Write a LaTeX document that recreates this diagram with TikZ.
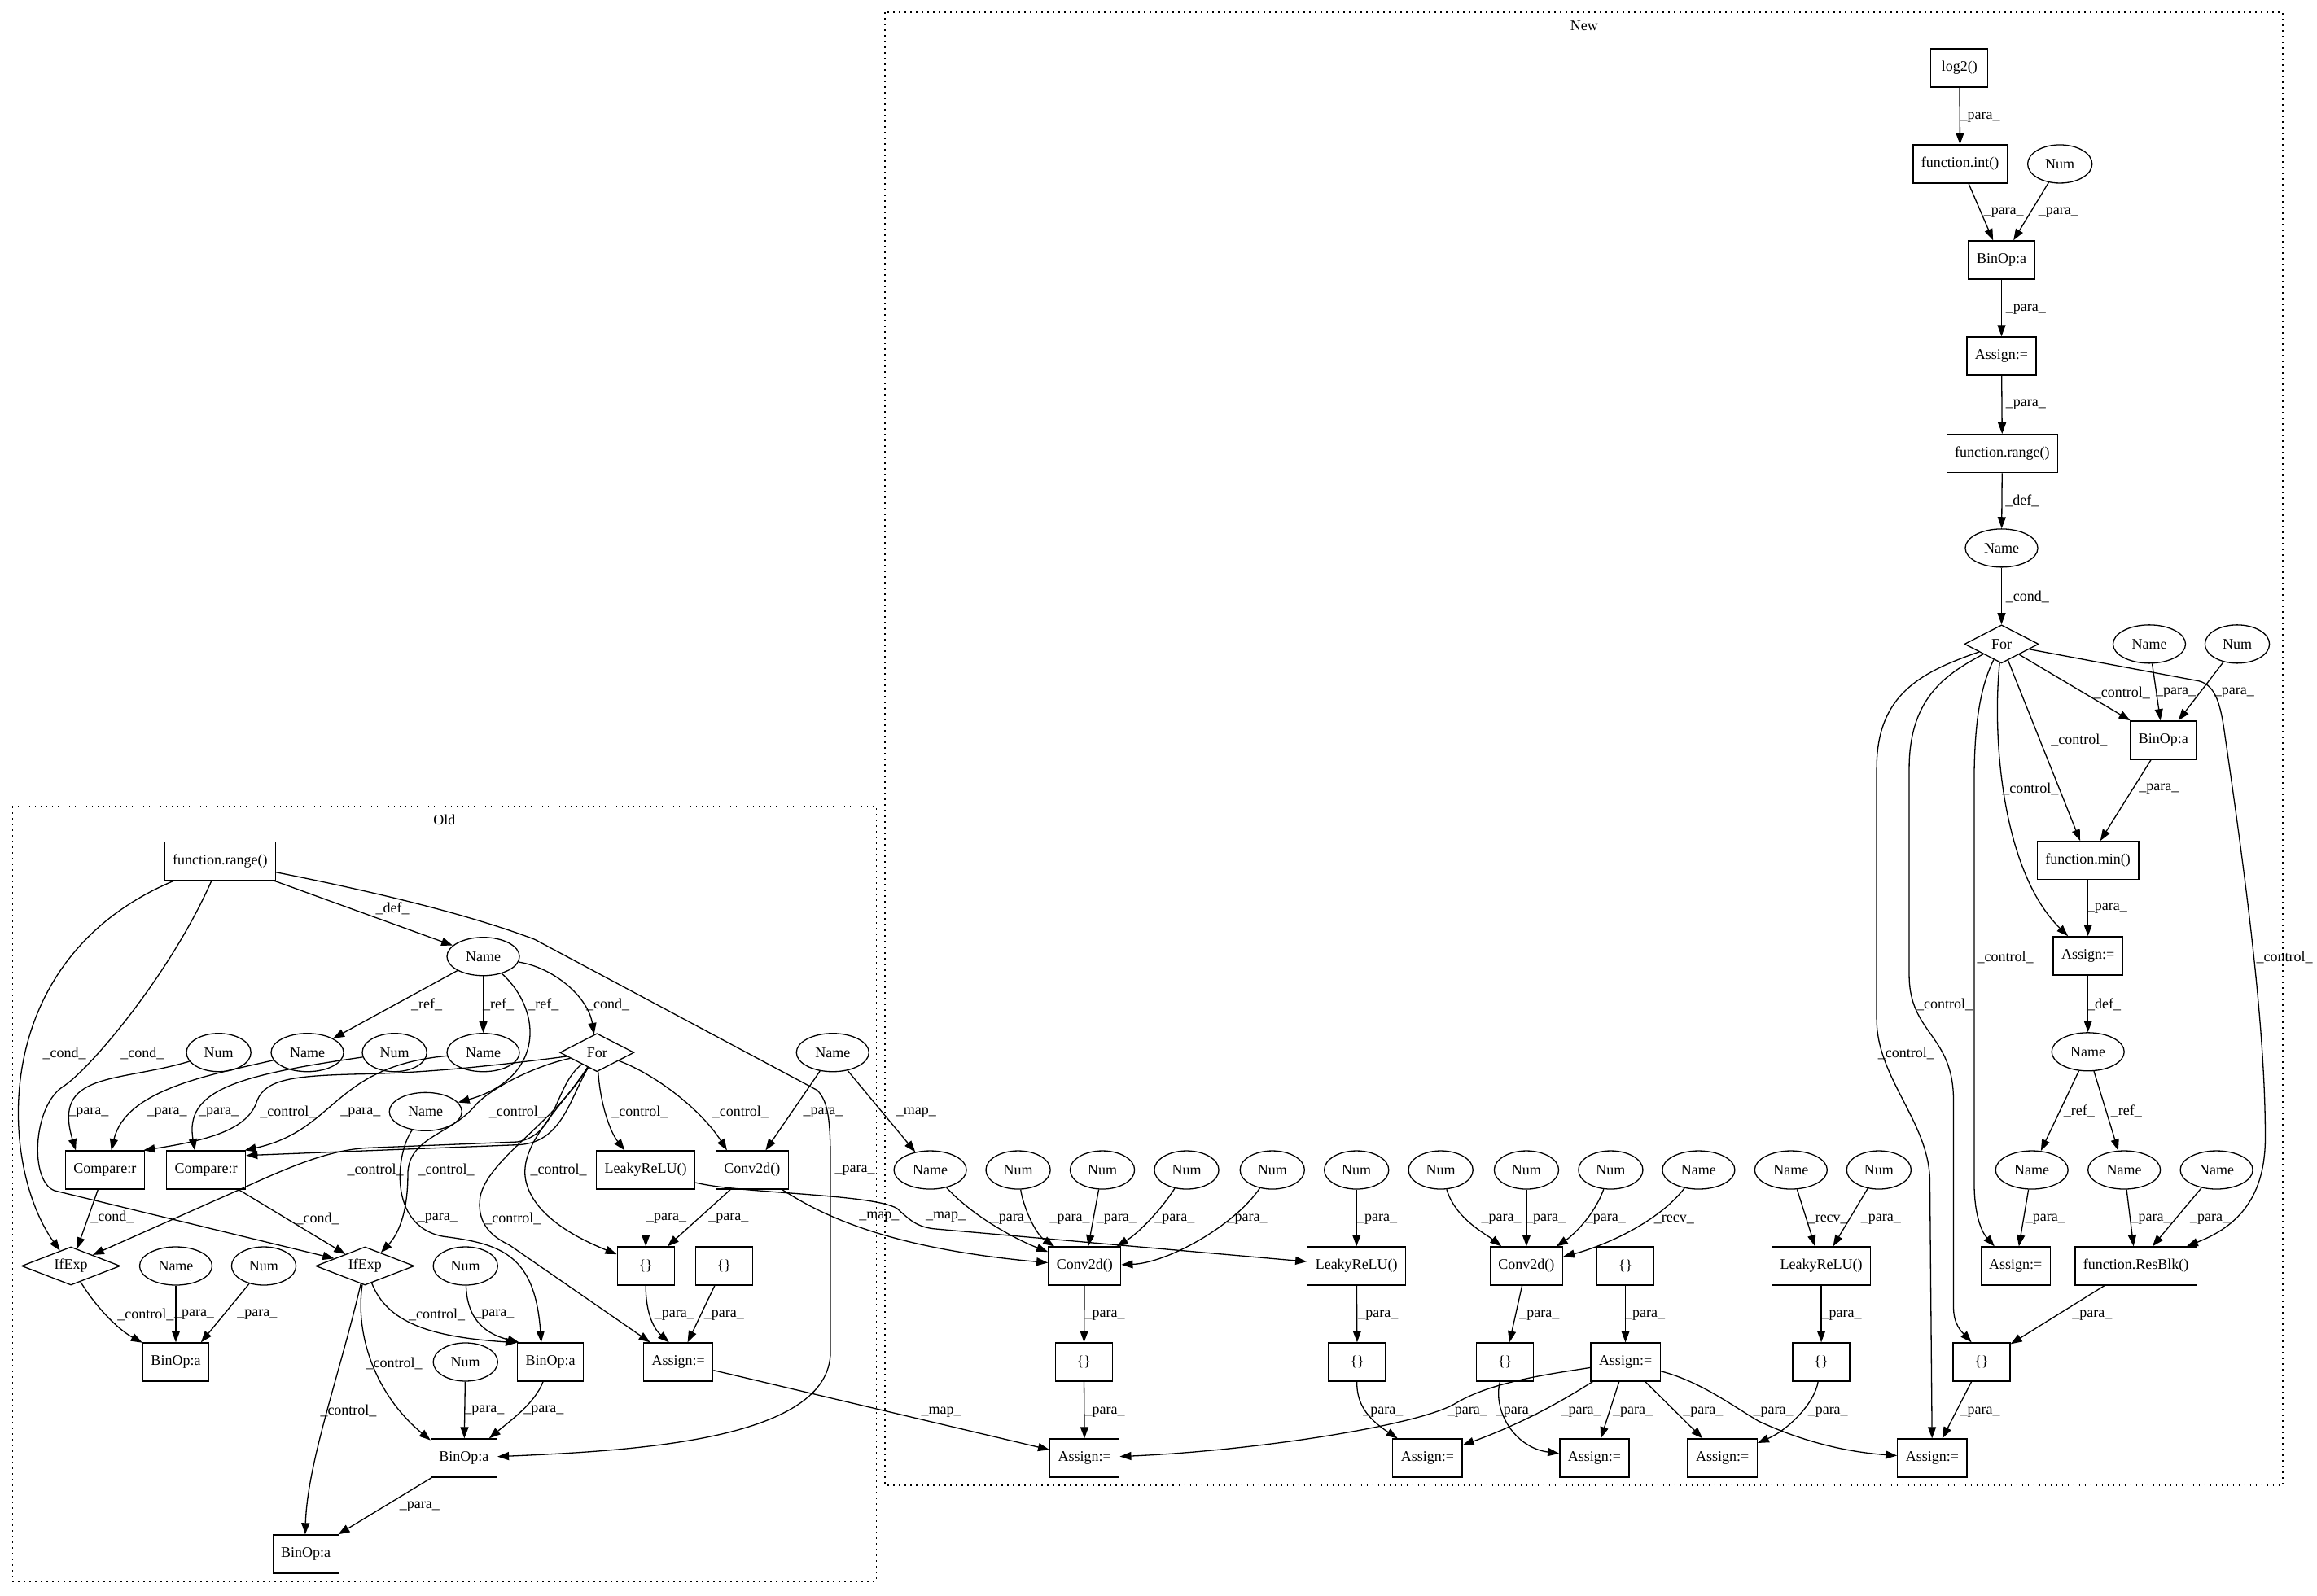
\documentclass[tikz,border=0pt]{standalone}
\usepackage{fontspec}
\setmainfont{Liberation Serif}
\usetikzlibrary{shapes.geometric,arrows.meta}
\tikzset{
  base/.style={font=\fontsize{18}{21}\selectfont},
  box/.style={base, draw, rectangle, line width=1.3pt, minimum height=47pt, minimum width=70pt, inner xsep=10pt, inner ysep=0pt},
  ell/.style={base, draw, ellipse, line width=1.3pt, minimum height=47pt, inner xsep=10pt, inner ysep=0pt},
  dia/.style={base, draw, diamond, line width=1.3pt, minimum height=47pt, inner sep=0pt, aspect=2},
  e/.style={line width=1.3pt, -{Triangle[length=14pt,width=10pt]}},
  lab/.style={base, inner sep=0pt},
  clus/.style={line width=1.6pt, dash pattern=on 1.6pt off 5.4pt},
}
\begin{document}
\begin{tikzpicture}[x=1.815pt,y=-1.815pt]
\useasboundingbox (0,0) rectangle (1568,1080);
% clusters
\draw[clus] (8.5,546) rectangle (593,1070.5);
\node[base] (oldlab) at (300.7,555) {Old};
\draw[clus] (599,8.4) rectangle (1545,1005.5);
\node[base] (newlab) at (1072,17.5) {New};

% ---------- Old nodes
\node[box] (oRange) at (149,583) {function.range()};
\node[ell] (oName) at (327,647.5) {Name};
\node[ell] (oNum1) at (148,712.5) {Num};
\node[ell] (oName1) at (208,712.5) {Name};
\node[ell] (oNum2) at (267,712.5) {Num};
\node[ell] (oName2) at (327,712.5) {Name};
\node[dia, minimum width=91pt] (oFor) at (404,712.5) {For};
\node[ell] (oNameR) at (563.5,712.5) {Name};
\node[ell] (oName3) at (288,752.5) {Name};
\node[box] (oCmpL) at (71,792) {Compare:r};
\node[box] (oCmpR) at (139.5,792) {Compare:r};
\node[box] (oLeaky) at (437,792) {LeakyReLU()};
\node[box] (oConv) at (509,792) {Conv2d()};
\node[dia, minimum width=121pt] (oIfL) at (48,857) {IfExp};
\node[ell] (oNameB) at (119,857) {Name};
\node[ell] (oNumB) at (178.5,857) {Num};
\node[dia, minimum width=121pt] (oIfR) at (247,857) {IfExp};
\node[ell] (oNumC) at (315,857) {Num};
\node[box] (oBr1) at (437,857) {\{\}};
\node[box] (oBr2) at (490,857) {\{\}};
\node[box] (oBinL) at (119,922) {BinOp:a};
\node[ell] (oNumD) at (315,922) {Num};
\node[box] (oBinM) at (372.5,922) {BinOp:a};
\node[box] (oAs) at (459,922) {Assign:=};
\node[box] (oBinB) at (314,987) {BinOp:a};
\node[box] (oBinZ) at (207,1052) {BinOp:a};

% ---------- New nodes
\node[box] (nLog) at (1326,46) {log2()};
\node[box] (nInt) at (1326.5,111) {function.int()};
\node[ell] (nNum0) at (1394,111) {Num};
\node[box] (nBin0) at (1354.5,176) {BinOp:a};
\node[box] (nAs0) at (1354.5,241) {Assign:=};
\node[box] (nRange) at (1355,307) {function.range()};
\node[ell] (nName0) at (1354.5,371) {Name};
\node[dia, minimum width=91pt] (nFor) at (1354.5,436) {For};
\node[ell] (nNameA) at (1454.5,436) {Name};
\node[ell] (nNumA) at (1514,436) {Num};
\node[box] (nBin1) at (1464,501) {BinOp:a};
\node[box] (nMin) at (1413,582.5) {function.min()};
\node[box] (nAs1) at (1413,647) {Assign:=};
\node[ell] (nName1) at (1413,712) {Name};

\node[ell] (nName2) at (629.5,792) {Name};
\node[ell] (nNum1) at (689,792) {Num};
\node[ell] (nNum2) at (746,792) {Num};
\node[ell] (nNum3) at (803,792) {Num};
\node[ell] (nNum4) at (861,792) {Num};
\node[ell] (nNum5) at (918,792) {Num};
\node[ell] (nNum6) at (975,792) {Num};
\node[ell] (nNum7) at (1033,792) {Num};
\node[ell] (nNum8) at (1090,792) {Num};
\node[ell] (nName3) at (1149.5,792) {Name};
\node[ell] (nName4) at (1212,792) {Name};
\node[ell] (nNum9) at (1271.5,792) {Num};
\node[ell] (nName5) at (1375,792) {Name};
\node[ell] (nName6) at (1437.5,792) {Name};
\node[ell] (nName7) at (1500,792) {Name};

\node[box] (nConv1) at (734,857) {Conv2d()};
\node[box] (nLeaky1) at (918,857) {LeakyReLU()};
\node[box] (nConv2) at (1033,857) {Conv2d()};
\node[box] (nBr0) at (1100,857) {\{\}};
\node[box] (nLeaky2) at (1232.5,857) {LeakyReLU()};
\node[box] (nAs2) at (1364,857) {Assign:=};
\node[box] (nRes) at (1445.5,857) {function.ResBlk()};

\node[box] (nBr1) at (733.5,922) {\{\}};
\node[box] (nBr2) at (918.5,922) {\{\}};
\node[box] (nBr3) at (1018.5,922) {\{\}};
\node[box] (nAsB) at (1100,922) {Assign:=};
\node[box] (nBr4) at (1232.5,922) {\{\}};
\node[box] (nBr5) at (1341,922) {\{\}};

\node[box] (nA1) at (734,987) {Assign:=};
\node[box] (nA2) at (966,987) {Assign:=};
\node[box] (nA3) at (1079,987) {Assign:=};
\node[box] (nA4) at (1165.6,987) {Assign:=};
\node[box] (nA5) at (1307.6,987) {Assign:=};

% ---------- New edges (upper)
\draw[e] (nLog) -- (nInt) node[lab] at (1340,79.5) {\_para\_};
\draw[e] (nInt) -- (nBin0) node[lab] at (1356,144) {\_para\_};
\draw[e] (nNum0) -- (nBin0) node[lab] at (1393,144) {\_para\_};
\draw[e] (nBin0) -- (nAs0) node[lab] at (1371,209.5) {\_para\_};
\draw[e] (nAs0) -- (nRange) node[lab] at (1371,274) {\_para\_};
\draw[e] (nRange) -- (nName0) node[lab] at (1368.5,339) {\_def\_};
\draw[e] (nName0) -- (nFor) node[lab] at (1372,404) {\_cond\_};
\draw[e] (nFor) -- (nBin1) node[lab] at (1436,469) {\_control\_};
\draw[e] (nNameA) -- (nBin1) node[lab] at (1472.5,469) {\_para\_};
\draw[e] (nNumA) -- (nBin1) node[lab] at (1512,469) {\_para\_};
\draw[e] (nFor) -- (nMin) node[lab] at (1407,501) {\_control\_};
\draw[e] (nBin1) -- (nMin) node[lab] at (1461,534) {\_para\_};
\draw[e] (nFor) .. controls (1348,500) and (1355,590) .. (nAs1) node[lab] at (1374,534) {\_control\_};
\draw[e] (nMin) -- (nAs1) node[lab] at (1426,615) {\_para\_};
\draw[e] (nAs1) -- (nName1) node[lab] at (1424,680) {\_def\_};
\draw[e] (nName1) -- (nName5) node[lab] at (1407,752) {\_ref\_};
\draw[e] (nName1) -- (nName6) node[lab] at (1439,752) {\_ref\_};
\draw[e] (nName5) -- (nAs2) node[lab] at (1384.2,825.5) {\_para\_};
\draw[e] (nName6) -- (nRes) node[lab] at (1455.7,825.5) {\_para\_};
\draw[e] (nName7) -- (nRes) node[lab] at (1495.6,825.5) {\_para\_};
\draw[e] (nRes) -- (nBr5) node[lab] at (1415.8,890.6) {\_para\_};
\draw[e] (nBr5) -- (nA5) node[lab] at (1340,956) {\_para\_};
% For long edges
\draw[e] (nFor) .. controls (1340,465) and (1336,490) .. (1336,530) -- (1336,800) .. controls (1336,825) and (1342,835) .. (nAs2.137) node[lab] at (1357,648) {\_control\_};
\draw[e] (nFor) .. controls (1320,455) and (1292,470) .. (1292,520) -- (1292,660) .. controls (1292,700) and (1322,700) .. (1322,745) -- (1322,885) .. controls (1322,897) and (1328,902) .. (nBr5.117) node[lab] at (1316,680) {\_control\_};
\draw[e] (nFor) .. controls (1300,455) and (1270,470) .. (1270,520) -- (1270,690) .. controls (1270,730) and (1306,760) .. (1306,800) -- (nA5) node[lab] at (1290,713) {\_control\_};
\draw[e] (nFor) -- (1488,461) .. controls (1500,464) and (1503,478) .. (1506,500) .. controls (1522,610) and (1533,700) .. (1533,770) .. controls (1533,810) and (1515,830) .. (nRes) node[lab] at (1546,648) {\_control\_};

% ---------- New edges (middle)
\draw[e] (nName2) .. controls (660,825) and (690,840) .. (nConv1) node[lab] at (684.5,825.5) {\_para\_};
\draw[e] (nNum1) .. controls (692,815) and (700,835) .. (nConv1.147) node[lab] at (724,825.5) {\_para\_};
\draw[e] (nNum2) -- (nConv1) node[lab] at (755.6,825.5) {\_para\_};
\draw[e] (nNum3) .. controls (785,820) and (770,835) .. (nConv1) node[lab] at (795,825.5) {\_para\_};
\draw[e] (nNum4) .. controls (835,830) and (790,855) .. (nConv1) node[lab] at (844.1,825.5) {\_para\_};
\draw[e] (nNum5) -- (nLeaky1) node[lab] at (932,825.5) {\_para\_};
\draw[e] (nNum6) .. controls (985,825) and (1005,835) .. (nConv2) node[lab] at (1016,825.5) {\_para\_};
\draw[e] (nNum7) -- (nConv2) node[lab] at (1046,825.5) {\_para\_};
\draw[e] (nNum8) .. controls (1078,825) and (1062,838) .. (nConv2) node[lab] at (1086.7,825.5) {\_para\_};
\draw[e] (nName3) .. controls (1120,830) and (1080,845) .. (nConv2) node[lab] at (1133,825.5) {\_recv\_};
\draw[e] (nName4) -- (nLeaky2) node[lab] at (1237,825.5) {\_recv\_};
\draw[e] (nNum9) -- (nLeaky2) node[lab] at (1272.9,825.5) {\_para\_};
\draw[e] (nBr0) -- (nAsB) node[lab] at (1113.3,890.6) {\_para\_};
\draw[e] (nConv1) -- (nBr1) node[lab] at (747.7,890.6) {\_para\_};
\draw[e] (nLeaky1) -- (nBr2) node[lab] at (932.7,890.6) {\_para\_};
\draw[e] (nConv2) -- (nBr3) node[lab] at (1041.8,890.6) {\_para\_};
\draw[e] (nLeaky2) -- (nBr4) node[lab] at (1246.3,890.6) {\_para\_};
\draw[e] (nBr1) -- (nA1) node[lab] at (747.7,956) {\_para\_};
\draw[e] (nBr2) .. controls (918,950) and (925,960) .. (nA2) node[lab] at (936,956) {\_para\_};
\draw[e] (nBr3) .. controls (1010,955) and (1025,980) .. (nA3) node[lab] at (1026,956) {\_para\_};
\draw[e] (nBr4) .. controls (1228,950) and (1210,968) .. (nA4) node[lab] at (1237,956) {\_para\_};
\draw[e] (nAsB) .. controls (1050,930) and (1010,935) .. (985,950) .. controls (960,965) and (850,982) .. (nA1) node[lab] at (993,956) {\_para\_};
\draw[e] (nAsB) .. controls (1070,940) and (1040,960) .. (nA2) node[lab] at (1070,956) {\_para\_};
\draw[e] (nAsB) -- (nA3) node[lab] at (1105,956) {\_para\_};
\draw[e] (nAsB) -- (nA4) node[lab] at (1152.5,956) {\_para\_};
\draw[e] (nAsB) .. controls (1150,935) and (1170,950) .. (1190,962) .. controls (1220,976) and (1250,983) .. (nA5) node[lab] at (1200,956) {\_para\_};

% ---------- map edges
\draw[e] (oNameR) -- (nName2) node[lab] at (620,753) {\_map\_};
\draw[e] (oLeaky) .. controls (500,808) and (590,808) .. (607,818) .. controls (615,825) and (620,831) .. (634,832) -- (nLeaky1) node[lab] at (640,824) {\_map\_};
\draw[e] (oConv) .. controls (555,822) and (600,845) .. (nConv1) node[lab] at (595,824) {\_map\_};
\draw[e] (oAs) -- (nA1) node[lab] at (637,956) {\_map\_};

% ---------- Old edges
\draw[e] (oRange) -- (oName) node[lab] at (265.6,614.8) {\_def\_};
\draw[e] (oRange) .. controls (-10,650) and (0,790) .. (oIfL) node[lab] at (43.6,712.9) {\_cond\_};
\draw[e] (oRange) .. controls (115,660) and (60,725) .. (42,736) .. controls (22,750) and (20,800) .. (37,806) -- (oIfR) node[lab] at (96.4,712.9) {\_cond\_};
\draw[e] (oRange) .. controls (260,605) and (320,620) .. (362,636) -- (553,738) .. controls (561,746) and (562,760) .. (562,790) -- (562,915) .. controls (562,975) and (430,982) .. (oBinB) node[lab] at (578.5,792.5) {\_para\_};
\draw[e] (oName) -- (oName1) node[lab] at (288.7,680) {\_ref\_};
\draw[e] (oName) -- (oName2) node[lab] at (337.3,680) {\_ref\_};
\draw[e] (oName) .. controls (368,685) and (368,730) .. (oName3) node[lab] at (367.7,680) {\_ref\_};
\draw[e] (oName) .. controls (375,655) and (398,675) .. (oFor) node[lab] at (411.3,680) {\_cond\_};
\draw[e] (oNum1) .. controls (80,733) and (35,725) .. (oCmpL.146) node[lab] at (60,753) {\_para\_};
\draw[e] (oName1) .. controls (140,728) and (85,738) .. (oCmpL.72) node[lab] at (113,753) {\_para\_};
\draw[e] (oNum2) .. controls (160,728) and (125,738) .. (oCmpR.120) node[lab] at (148,753) {\_para\_};
\draw[e] (oName2) .. controls (225,722) and (228,765) .. (oCmpR.27) node[lab] at (244,753) {\_para\_};
\draw[e] (oFor) .. controls (330,722) and (290,726) .. (248,727) .. controls (200,728) and (180,730) .. (174,745) .. controls (168,765) and (140,772) .. (oCmpL.27) node[lab] at (195,753) {\_control\_};
\draw[e] (oFor) .. controls (385,745) and (380,774) .. (350,775) -- (oCmpR.20) node[lab] at (254,792) {\_control\_};
\draw[e] (oFor) .. controls (375,735) and (378,768) .. (350,773) -- (250,777) .. controls (225,778) and (200,788) .. (165,804) -- (oIfL.27) node[lab] at (350,753) {\_control\_};
\draw[e] (oFor) .. controls (360,722) and (330,738) .. (321,749) .. controls (305,768) and (276,770) .. (276,795) .. controls (276,820) and (270,835) .. (oIfR.40) node[lab] at (302,792) {\_control\_};
\draw[e] (oFor) .. controls (406,745) and (412,765) .. (oLeaky.137) node[lab] at (433,753) {\_control\_};
\draw[e] (oFor) .. controls (445,728) and (475,752) .. (oConv.142) node[lab] at (501,753) {\_control\_};
\draw[e] (oFor) .. controls (380,750) and (350,775) .. (356,800) .. controls (362,825) and (395,840) .. (oBr1.158) node[lab] at (378,792) {\_control\_};
\draw[e] (oFor) .. controls (375,760) and (330,785) .. (325,810) .. controls (322,830) and (335,838) .. (345,843) -- (oAs.145) node[lab] at (347,825) {\_control\_};
\draw[e] (oNameR) -- (oConv) node[lab] at (557,753) {\_para\_};
\draw[e] (oCmpL) -- (oIfL) node[lab] at (76,824) {\_cond\_};
\draw[e] (oCmpR) -- (oIfR) node[lab] at (215,825) {\_cond\_};
\draw[e] (oName3) .. controls (268,780) and (262,830) .. (300,837) .. controls (340,842) and (362,850) .. (oBinM.115) node[lab] at (296,825) {\_para\_};
\draw[e] (oIfL) .. controls (65,885) and (80,900) .. (oBinL.150) node[lab] at (98.6,890) {\_control\_};
\draw[e] (oNameB) -- (oBinL) node[lab] at (131.4,890) {\_para\_};
\draw[e] (oNumB) -- (oBinL.38) node[lab] at (174,890) {\_para\_};
\draw[e] (oIfR) .. controls (262,895) and (290,905) .. (oBinM.150) node[lab] at (295.7,890) {\_control\_};
\draw[e] (oNumC) .. controls (316,890) and (325,902) .. (oBinM.148) node[lab] at (334.3,890) {\_para\_};
\draw[e] (oIfR) .. controls (240,905) and (255,945) .. (oBinB.152) node[lab] at (266.7,923) {\_control\_};
\draw[e] (oIfR) .. controls (230,930) and (208,990) .. (oBinZ.92) node[lab] at (235.8,955) {\_control\_};
\draw[e] (oNumD) -- (oBinB) node[lab] at (327.8,955) {\_para\_};
\draw[e] (oBinM) .. controls (362,950) and (345,962) .. (oBinB.38) node[lab] at (368,955) {\_para\_};
\draw[e] (oBinB) -- (oBinZ) node[lab] at (284,1020) {\_para\_};
\draw[e] (oLeaky) -- (oBr1) node[lab] at (451,825) {\_para\_};
\draw[e] (oConv) -- (oBr1) node[lab] at (493,825) {\_para\_};
\draw[e] (oBr1) .. controls (437,890) and (443,900) .. (oAs.115) node[lab] at (456.4,890.4) {\_para\_};
\draw[e] (oBr2) -- (oAs) node[lab] at (490,890.4) {\_para\_};
\end{tikzpicture}
\end{document}
